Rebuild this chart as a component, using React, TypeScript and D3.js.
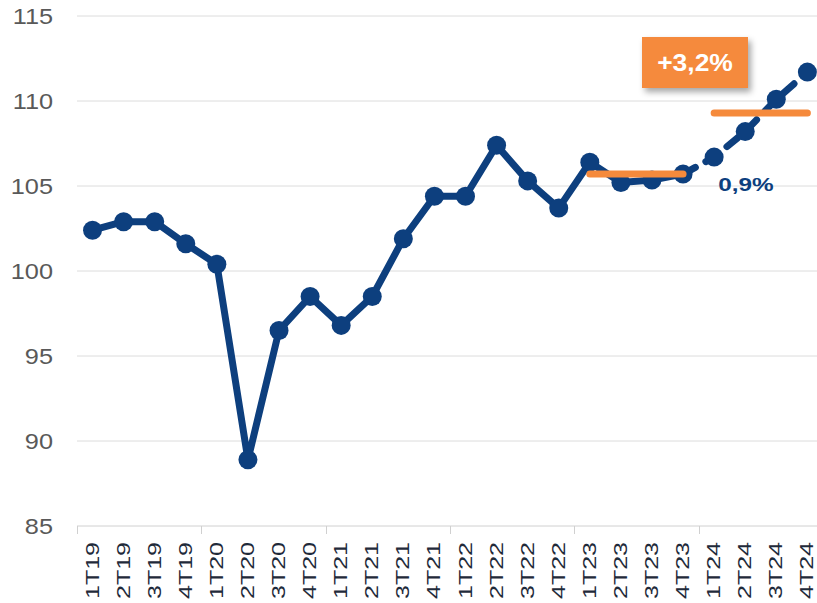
import { useMemo } from "react";
import * as d3 from "d3";

const WIDTH = 817;
const HEIGHT = 603;

const quarters = [
  "1T19", "2T19", "3T19", "4T19",
  "1T20", "2T20", "3T20", "4T20",
  "1T21", "2T21", "3T21", "4T21",
  "1T22", "2T22", "3T22", "4T22",
  "1T23", "2T23", "3T23", "4T23",
  "1T24", "2T24", "3T24", "4T24",
];

const values = [
  102.4, 102.9, 102.9, 101.6,
  100.4, 88.9, 96.5, 98.5,
  96.8, 98.5, 101.9, 104.4,
  104.4, 107.4, 105.3, 103.7,
  106.4, 105.2, 105.35, 105.7,
  106.7, 108.2, 110.1, 111.7,
];

const yTicks = [85, 90, 95, 100, 105, 110, 115];

// yearly averages (orange bars)
const averages = [
  { from: "1T23", to: "4T23", value: 105.7 },
  { from: "1T24", to: "4T24", value: 109.3 },
];

const firstDashed = "4T23";
const growthLabel = "+3,2%";
const quarterLabel = "0,9%";

const NAVY = "#0d3f7e";
const ORANGE = "#f58a3c";
const FONT = "'Liberation Sans', Arial, sans-serif";

const App = () => {
  const x = useMemo(
    () => d3.scaleBand<string>().domain(quarters).range([77, 77 + 24 * 31.08]),
    []
  );
  const y = useMemo(() => d3.scaleLinear().domain([85, 115]).range([526, 16]), []);

  const cx = (q: string) => (x(q) ?? 0) + x.bandwidth() / 2;
  const pts = quarters.map((q, i) => ({ q, v: values[i] }));
  const splitIdx = quarters.indexOf(firstDashed);

  const line = d3
    .line<{ q: string; v: number }>()
    .x((d) => cx(d.q))
    .y((d) => y(d.v));

  const solidPath = line(pts.slice(0, splitIdx + 1)) ?? "";
  const dashedPath = line(pts.slice(splitIdx)) ?? "";

  return (
    <svg
      width={WIDTH}
      height={HEIGHT}
      style={{ position: "absolute", left: 0, top: 0, background: "#fff" }}
      fontFamily={FONT}
    >
      <defs>
        <filter id="shadow" x="-20%" y="-20%" width="150%" height="160%">
          <feDropShadow dx="3" dy="4" stdDeviation="3" floodColor="#000" floodOpacity="0.35" />
        </filter>
      </defs>

      {/* gridlines */}
      {yTicks.map((t) => (
        <g key={t}>
          <line
            x1={77}
            x2={WIDTH}
            y1={y(t)}
            y2={y(t)}
            stroke={t === 85 ? "#d0d0d0" : "#dcdcdc"}
            strokeWidth={1}
          />
          <text
            transform={`translate(53,${y(t)}) scale(1.15,1)`}
            dy="0.35em"
            textAnchor="end"
            fontSize={22}
            fill="#595959"
          >
            {t}
          </text>
        </g>
      ))}

      {/* x ticks every year */}
      {quarters.map((q, i) =>
        i % 4 === 0 ? (
          <line
            key={"tk" + q}
            x1={Math.round(x(q) ?? 0) + 0.5}
            x2={Math.round(x(q) ?? 0) + 0.5}
            y1={y(85)}
            y2={y(85) + 8}
            stroke="#d0d0d0"
          />
        ) : null
      )}

      {quarters.map((q) => (
        <text
          key={"lb" + q}
          transform={`translate(${cx(q) + 6},${542}) rotate(-90)`}
          textAnchor="end"
          fontSize={17.5}
          textLength={57}
          lengthAdjust="spacingAndGlyphs"
          fill="#1f2a3a"
        >
          {q}
        </text>
      ))}

      {/* series */}
      <path d={solidPath} fill="none" stroke={NAVY} strokeWidth={7} strokeLinejoin="round" />
      <path
        d={dashedPath}
        fill="none"
        stroke={NAVY}
        strokeWidth={7}
        strokeDasharray="14 12"
        strokeLinecap="round"
      />
      {pts.map((d) => (
        <circle key={"pt" + d.q} cx={cx(d.q)} cy={y(d.v)} r={9.5} fill={NAVY} />
      ))}

      {/* yearly averages */}
      {averages.map((a) => (
        <line
          key={"avg" + a.from}
          x1={cx(a.from)}
          x2={cx(a.to)}
          y1={y(a.value)}
          y2={y(a.value)}
          stroke={ORANGE}
          strokeWidth={7}
          strokeLinecap="round"
        />
      ))}

      <text
        transform={`translate(${cx("1T24") + 4},191) scale(1.28,1)`}
        fontSize={19}
        fontWeight="bold"
        fill={NAVY}
      >
        {quarterLabel}
      </text>

      <g filter="url(#shadow)">
        <rect x={642} y={37} width={106} height={51} fill={ORANGE} />
      </g>
      <text
        transform={`translate(695,63) scale(1.15,1)`}
        dy="0.35em"
        textAnchor="middle"
        fontSize={23}
        fontWeight="bold"
        fill="#fff"
      >
        {growthLabel}
      </text>
    </svg>
  );
};

export default App;
